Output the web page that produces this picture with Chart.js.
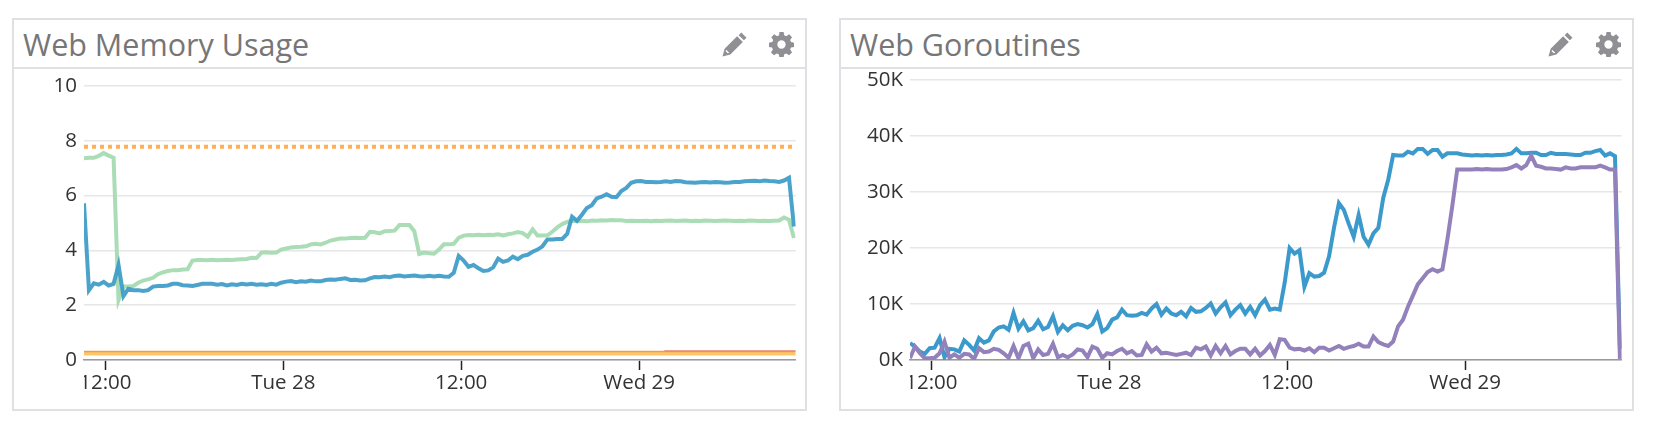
<!DOCTYPE html>
<html>
<head>
<meta charset="utf-8">
<title>Web dashboards</title>
<script src="https://cdn.jsdelivr.net/npm/chart.js@4/dist/chart.umd.min.js"></script>
<style>
  html, body { margin: 0; padding: 0; background: #fff; }
  body { width: 1654px; height: 434px; position: relative; overflow: hidden; font-family: "Open Sans", sans-serif; }
  .panel { position: absolute; top: 18px; width: 791px; height: 389px; border: 2px solid #dfdfe4; }
  .panel h2 { margin: 0; position: absolute; left: 9px; top: 3px; font-size: 30.5px; line-height: 43px; font-weight: 400; color: #767678; white-space: nowrap; }
  .panel .rule { position: absolute; left: 0; right: 0; top: 47px; height: 2px; background: #dfdfe4; }
  .panel svg { position: absolute; top: 12px; width: 25px; height: 25px; fill: #8f8f94; }
  .panel canvas { position: absolute; left: 0; top: 50px; }
</style>
</head>
<body>
<div class="panel" style="left:12px">
  <h2>Web Memory Usage</h2>
  <svg style="left:708px" viewBox="0 0 24 24"><path d="M18.500 .5l5 5-2.500 2.500-5-5zM14.500 4l5.500 5.500L8 21.500 .5 23.500 2.500 16zM3.500 18.500l2 2 1.500-.5-3-3z" fill-rule="evenodd"/></svg>
  <svg style="left:755px" viewBox="0 0 24 24"><path d="M10 0h4l.6 3.200 2 .8L19.300 2.200l2.800 2.800-1.800 2.700.8 2 3.100.6v4l-3.100.6-.8 2 1.800 2.700-2.800 2.800-2.700-1.800-2 .8-.6 3.100h-4l-.6-3.100-2-.8-2.700 1.800-2.800-2.800 1.800-2.700-.8-2L0 14.300v-4l3.200-.6.800-2L2.200 5l2.800-2.800L7.700 4l2-.8zM12 8a4 4 0 1 0 0 8 4 4 0 0 0 0-8z" fill-rule="evenodd"/></svg>
  <div class="rule"></div>
  <canvas id="memChart" width="790" height="338"></canvas>
</div>
<div class="panel" style="left:839px">
  <h2>Web Goroutines</h2>
  <svg style="left:707px" viewBox="0 0 24 24"><path d="M18.500 .5l5 5-2.500 2.500-5-5zM14.500 4l5.500 5.500L8 21.500 .5 23.500 2.500 16zM3.500 18.500l2 2 1.500-.5-3-3z" fill-rule="evenodd"/></svg>
  <svg style="left:755px" viewBox="0 0 24 24"><path d="M10 0h4l.6 3.200 2 .8L19.300 2.200l2.800 2.800-1.800 2.700.8 2 3.100.6v4l-3.100.6-.8 2 1.800 2.700-2.800 2.800-2.700-1.800-2 .8-.6 3.100h-4l-.6-3.100-2-.8-2.700 1.800-2.800-2.800 1.800-2.700-.8-2L0 14.300v-4l3.200-.6.800-2L2.200 5l2.800-2.800L7.700 4l2-.8zM12 8a4 4 0 1 0 0 8 4 4 0 0 0 0-8z" fill-rule="evenodd"/></svg>
  <div class="rule"></div>
  <canvas id="gorChart" width="790" height="338"></canvas>
</div>

<script>
// x axis is hours since Monday 00:00
const START_HOUR = 10.56;
const END_HOUR = 58.56;
const SAMPLE_STEP = 0.3325;
const tickHours = [12, 24, 36, 48];
const tickNames = ['12:00', 'Tue 28', '12:00', 'Wed 29'];

const memTicks = [0, 2, 4, 6, 8, 10];
const gorTicks = [0, 10, 20, 30, 40, 50];

// Web Memory Usage (GB)
const memBlue = [
  5.72, 2.55, 2.8, 2.75, 2.85, 2.72, 2.78, 3.47, 2.33, 2.6,
  2.55, 2.55, 2.52, 2.55, 2.68, 2.7, 2.7, 2.72, 2.78, 2.78,
  2.73, 2.72, 2.7, 2.74, 2.78, 2.78, 2.78, 2.75, 2.77, 2.72,
  2.76, 2.74, 2.78, 2.76, 2.78, 2.75, 2.76, 2.74, 2.78, 2.75,
  2.82, 2.86, 2.88, 2.84, 2.87, 2.86, 2.9, 2.87, 2.87, 2.92,
  2.94, 2.93, 2.96, 2.98, 2.92, 2.93, 2.9, 2.91, 2.98, 3.03,
  3.02, 3.05, 3.02, 3.07, 3.08, 3.05, 3.07, 3.08, 3.06, 3.05,
  3.07, 3.05, 3.07, 3.05, 3.04, 3.18, 3.8, 3.63, 3.4, 3.47,
  3.35, 3.25, 3.27, 3.38, 3.7, 3.58, 3.63, 3.77, 3.68, 3.8,
  3.84, 3.95, 4.03, 4.15, 4.4, 4.4, 4.42, 4.42, 4.6, 5.23,
  5.08, 5.3, 5.55, 5.65, 5.9, 5.96, 6.05, 5.96, 5.94, 6.17,
  6.28, 6.47, 6.52, 6.53, 6.5, 6.5, 6.49, 6.5, 6.52, 6.5,
  6.53, 6.52, 6.49, 6.48, 6.47, 6.49, 6.5, 6.48, 6.5, 6.49,
  6.47, 6.48, 6.5, 6.5, 6.52, 6.53, 6.54, 6.52, 6.55, 6.53,
  6.52, 6.5, 6.55, 6.65, 4.87
];
const memGreen = [
  7.36, 7.38, 7.38, 7.45, 7.55, 7.46, 7.38, 2.19, 2.68, 2.68,
  2.7, 2.82, 2.9, 2.94, 3.0, 3.13, 3.2, 3.25, 3.28, 3.28,
  3.3, 3.31, 3.63, 3.65, 3.65, 3.64, 3.66, 3.64, 3.65, 3.66,
  3.65, 3.67, 3.68, 3.69, 3.73, 3.72, 3.92, 3.93, 3.91, 3.92,
  4.03, 4.07, 4.11, 4.12, 4.13, 4.15, 4.22, 4.24, 4.22, 4.28,
  4.36, 4.4, 4.43, 4.43, 4.45, 4.46, 4.45, 4.46, 4.68, 4.66,
  4.62, 4.7, 4.71, 4.72, 4.93, 4.93, 4.93, 4.7, 3.87, 3.92,
  3.9, 3.88, 4.03, 4.22, 4.22, 4.24, 4.46, 4.54, 4.56, 4.55,
  4.57, 4.55, 4.57, 4.56, 4.59, 4.55, 4.59, 4.62, 4.67, 4.63,
  4.5, 4.77, 4.54, 4.54, 4.55, 4.68, 4.84, 4.96, 5.04, 5.08,
  5.07, 5.08, 5.06, 5.09, 5.08, 5.1, 5.09, 5.11, 5.1, 5.1,
  5.07, 5.08, 5.07, 5.07, 5.08, 5.06, 5.08, 5.07, 5.08, 5.09,
  5.07, 5.08, 5.09, 5.07, 5.08, 5.07, 5.09, 5.08, 5.07, 5.08,
  5.09, 5.08, 5.07, 5.08, 5.07, 5.09, 5.08, 5.07, 5.08, 5.07,
  5.08, 5.09, 5.2, 5.12, 4.45
];
// flat lines only need their two ends
const flatHours = [START_HOUR, END_HOUR];
const memLimit = [7.78, 7.78];
const memBaseYellow = [0.23, 0.23];
const memBaseOrange = [0.31, 0.31];
const redHours = [49.7, END_HOUR];
const memBaseRed = [0.33, 0.33];

// Web Goroutines (thousands)
const gorBlue = [
  3.0, 2.4, 1.5, 1.1, 2.1, 2.2, 3.9, 0.5, 2.0, 1.9,
  1.5, 3.5, 2.7, 1.7, 3.9, 3.1, 3.5, 5.1, 5.8, 6.0,
  5.4, 8.4, 5.6, 6.9, 5.3, 5.7, 7.0, 5.5, 5.9, 7.8,
  5.0, 6.2, 5.3, 6.1, 6.4, 6.2, 5.8, 6.4, 8.2, 5.1,
  5.7, 7.2, 7.6, 9.0, 8.0, 7.9, 8.0, 8.4, 8.1, 9.2,
  10.0, 8.1, 9.2, 8.3, 8.0, 8.6, 7.8, 9.3, 8.6, 8.7,
  9.3, 10.1, 8.3, 9.4, 10.3, 8.0, 9.0, 9.8, 8.3, 9.5,
  8.0, 9.8, 10.8, 9.0, 9.2, 9.0, 13.8, 20.0, 19.0, 19.6,
  13.1, 15.5, 14.9, 15.0, 15.6, 18.5, 23.6, 28, 26.8, 24.3,
  22.0, 25.9, 22, 20.6, 22.6, 23.6, 29, 32.2, 36.6, 36.5,
  36.5, 37.2, 36.9, 37.7, 37.7, 36.8, 37.5, 37.5, 36.3, 36.9,
  36.9, 36.9, 36.7, 36.6, 36.5, 36.6, 36.5, 36.6, 36.5, 36.6,
  36.6, 36.7, 36.9, 37.7, 36.9, 36.9, 37.0, 37.0, 36.6, 36.6,
  37.0, 36.8, 36.8, 36.8, 36.7, 36.6, 36.6, 37.0, 37.0, 37.3,
  37.5, 36.5, 36.9, 36.4, 2.0
];
const gorPurple = [
  0.3, 2.4, 1.2, 0.3, 0.3, 0.4, 1.2, 3.3, 0.4, 1.0,
  0.4, 1.1, 1.0, 0.2, 2.1, 1.4, 1.5, 2.0, 1.8, 1.2,
  0.4, 2.5, 0.3, 2.5, 2.9, 0.3, 1.9, 0.9, 1.1, 2.9,
  0.5, 0.9, 0.5, 1.0, 1.9, 1.7, 0.5, 2.4, 2.0, 0.4,
  1.2, 1.0, 1.6, 2.0, 1.2, 1.6, 0.8, 0.9, 2.8, 1.5,
  2.2, 1.2, 1.3, 1.1, 0.9, 1.1, 1.3, 0.9, 2.2, 1.9,
  2.4, 0.8, 2.5, 1.2, 2.5, 1.0, 1.6, 2.0, 2.0, 1.0,
  2.0, 0.8, 1.6, 2.7, 0.9, 3.7, 3.6, 2.2, 1.9, 2.0,
  1.7, 2.1, 1.4, 2.2, 2.2, 1.7, 2.1, 2.5, 2.0, 2.3,
  2.5, 2.9, 2.4, 2.4, 4.2, 3.2, 2.8, 2.5, 3.3, 6.0,
  7.2, 9.5, 11.5, 13.5, 14.6, 15.7, 16.2, 15.8, 16.2, 21.5,
  27.5, 34, 34, 34, 34, 34.1, 34, 34.1, 34, 34,
  34, 34.1, 34.4, 34.8, 34.2, 34.8, 36.5, 34.7, 34.5, 34.2,
  34.2, 34.1, 34, 34.4, 34.2, 34.2, 34.4, 34.4, 34.4, 34.4,
  34.7, 34.4, 34, 34, 0.2
];

const sampleHours = memBlue.map((v, i) => START_HOUR + i * SAMPLE_STEP);

function toPoints(hours, values) {
  return values.map((v, i) => ({ x: hours[i], y: v }));
}

function lineSet(hours, values, color, width, order, extra) {
  return Object.assign({
    data: toPoints(hours, values),
    borderColor: color,
    borderWidth: width,
    pointRadius: 0,
    tension: 0,
    borderJoinStyle: 'miter',
    borderCapStyle: 'butt',
    order
  }, extra);
}

// the first x label is cut off at the left edge of the plot
const cutLabelPlugin = {
  id: 'cutLabel',
  afterDraw(chart) {
    const area = chart.chartArea;
    chart.ctx.clearRect(area.left - 20, area.bottom + 12, 20, 30);
  }
};

function dropScalePadding(scale) {
  scale.paddingTop = 0;
  scale.paddingBottom = 0;
  scale.paddingLeft = 0;
  scale.paddingRight = 0;
}

function buildChart(canvasId, datasets, yMax, yStep, yTicks, yLabel, leftWidth, topPad, rightPad) {
  return new Chart(document.getElementById(canvasId), {
    type: 'line',
    data: { datasets },
    options: {
      responsive: false,
      animation: false,
      parsing: false,
      normalized: true,
      layout: { padding: { top: topPad, right: rightPad, left: 0, bottom: 0 } },
      plugins: { legend: { display: false }, tooltip: { enabled: false } },
      scales: {
        x: {
          type: 'linear',
          min: START_HOUR,
          max: END_HOUR,
          afterBuildTicks(scale) { scale.ticks = tickHours.map(h => ({ value: h })); },
          afterFit(scale) { scale.height = 48; dropScalePadding(scale); },
          grid: { drawOnChartArea: false, drawTicks: true, tickLength: 10, tickColor: '#222', tickWidth: 1.5 },
          border: { color: '#9a9a9a', width: 1.5 },
          ticks: {
            autoSkip: false,
            maxRotation: 0,
            padding: 1,
            color: '#333',
            font: { family: '"Open Sans"', size: 20.5 },
            callback: v => tickNames[tickHours.indexOf(v)]
          }
        },
        y: {
          min: 0,
          max: yMax,
          afterBuildTicks(scale) { scale.ticks = yTicks.map(v => ({ value: v })); },
          afterFit(scale) { scale.width = leftWidth; dropScalePadding(scale); },
          grid: { color: '#e6e6e6', lineWidth: 1.5, drawTicks: false },
          border: { display: false },
          ticks: {
            stepSize: yStep,
            padding: 7,
            color: '#333',
            font: { family: '"Open Sans"', size: 20.5 },
            callback: yLabel
          }
        }
      }
    },
    plugins: [cutLabelPlugin]
  });
}

buildChart('memChart', [
  lineSet(flatHours, memLimit, '#ffb052', 4, 1, { borderDash: [4, 4] }),
  lineSet(sampleHours, memBlue, 'rgba(60,155,200,0.92)', 4, 2),
  lineSet(sampleHours, memGreen, '#aadcb6', 4, 3),
  lineSet(redHours, memBaseRed, '#e98a7a', 1.5, 4),
  lineSet(flatHours, memBaseOrange, '#f29a55', 1.5, 5),
  lineSet(flatHours, memBaseYellow, '#fdc768', 3.5, 6)
], 10, 2, memTicks, v => String(v), 70, 16, 8.3);

buildChart('gorChart', [
  lineSet(sampleHours, gorPurple, '#9381bc', 4, 1),
  lineSet(sampleHours, gorBlue, '#3b9acb', 4, 2)
], 50, 10, gorTicks, v => v + 'K', 69, 10, 9.3);
</script>
</body>
</html>
